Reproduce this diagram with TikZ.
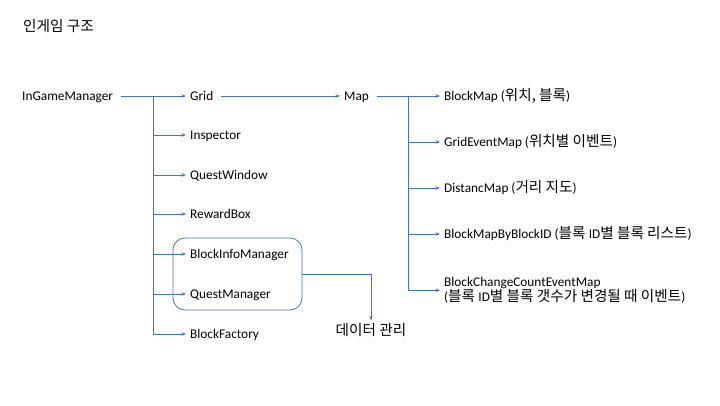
\documentclass[tikz,border=0pt]{standalone}
\usepackage{fontspec}
\setmainfont{Carlito}
\newfontfamily\kr{Noto Sans CJK KR}[Scale=1.1]
\usetikzlibrary{arrows.meta}
\definecolor{lineblue}{RGB}{68,114,196}
\begin{document}
\begin{tikzpicture}[x=1pt,y=-1pt,
    item/.style={anchor=west,inner xsep=4pt,inner ysep=0pt,text height=11.5pt,text depth=3pt,
      font=\fontsize{13.3}{15}\selectfont},
    link/.style={draw=lineblue,line width=0.8pt},
    arr/.style={link,-{Stealth[length=4.5pt,width=3.5pt]}}]
    \useasboundingbox (0,0) rectangle (720,405);

    \node[item] (title) at (19,27) {\kr 인게임 구조};

    \node[item] (igm) at (18,96) {InGameManager};
    \node[item] (grid) at (186,96) {Grid};
    \node[item] (map) at (340,96) {Map};
    \coordinate (trunkA) at (153,96);
    \coordinate (trunkB) at (408,96);

    \draw[arr, shorten <=4pt] (igm) -- (grid);
    \draw[arr, shorten <=4pt] (grid) -- (map);

    \foreach \name/\txt/\y in {insp/Inspector/135, qwin/QuestWindow/175, rbox/RewardBox/214,
        bim/BlockInfoManager/254, qm/QuestManager/294, bf/BlockFactory/334}
    {
        \node[item] (\name) at (186,\y) {\txt};
        \draw[arr] (trunkA) |- (\name);
    }

    \node[item] (bmap) at (440,96) {BlockMap ({\kr 위치, 블록})};
    \node[item] (gemap) at (440,142) {GridEventMap ({\kr 위치별 이벤트})};
    \node[item] (dmap) at (440,188) {DistancMap ({\kr 거리 지도})};
    \node[item] (bmbid) at (440,234) {BlockMapByBlockID ({\kr 블록 }ID{\kr 별 블록 리스트})};
    \node[item, text height=, text depth=, align=left, anchor=base west] (bcc) at (440,301.5)
        {BlockChangeCountEventMap\\({\kr 블록 }ID{\kr 별 블록 갯수가 변경될 때 이벤트})};

    \draw[arr, shorten <=4pt] (map) -- (bmap);
    \draw[arr] (trunkB) |- (gemap);
    \draw[arr] (trunkB) |- (dmap);
    \draw[arr] (trunkB) |- (bmbid);
    \draw[arr] (trunkB) |- (bcc);

    \node[link, rounded corners=12pt, minimum width=129pt, minimum height=72pt] (dbox) at (237.5,274) {};
    \node[item, anchor=center, inner ysep=3pt] (data) at (371,331) {\kr 데이터 관리};
    \draw[arr] (dbox) -| (data);
\end{tikzpicture}
\end{document}
